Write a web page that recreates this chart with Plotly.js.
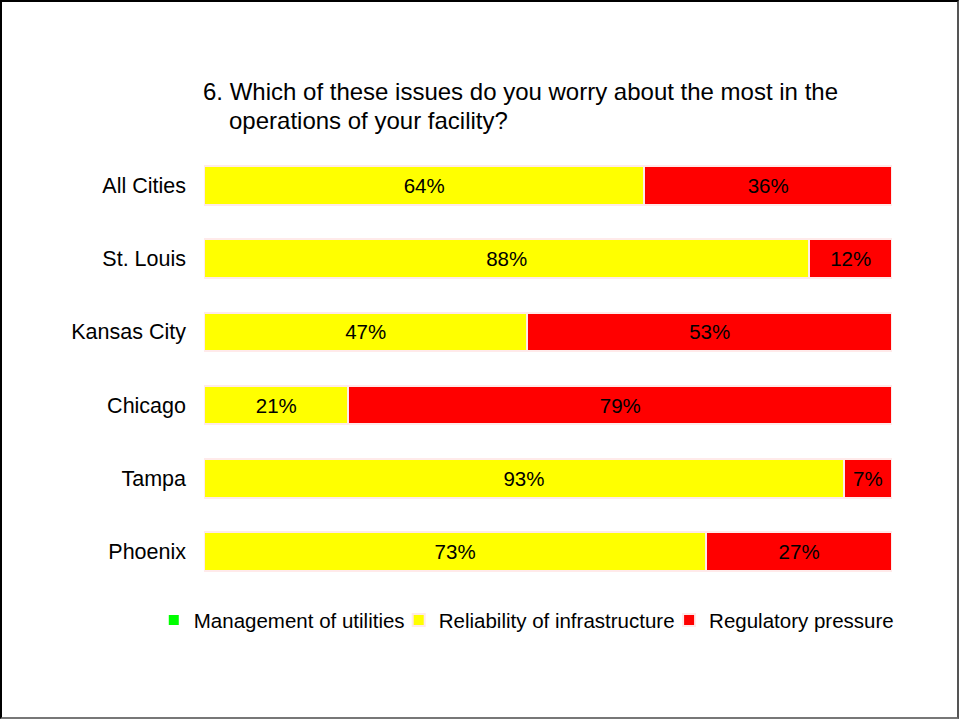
<!DOCTYPE html>
<html>
<head>
<script src="https://cdn.plot.ly/plotly-3.0.1.min.js"></script>
<style>
body { margin: 0; background: #fff; }
#chart { width: 955px; height: 715px; border: 2px solid #000; border-right-color: #555; border-bottom-color: #777; }
</style>
</head>
<body>
<div id="chart"></div>
<script>
var cities = ["All Cities", "St. Louis", "Kansas City", "Chicago", "Tampa", "Phoenix"];
var management = [0, 0, 0, 0, 0, 0];
var reliability = [64, 88, 47, 21, 93, 73];
var regulatory = [36, 12, 53, 79, 7, 27];

var font = "Liberation Sans, Arial, sans-serif";

function pct(arr) { return arr.map(v => v + "%"); }

var data = [
    {
        name: "Management of utilities",
        type: "bar", orientation: "h",
        y: cities, x: management,
        marker: {color: "#00ff00", line: {color: "#ffffff", width: 2}},
        legend: "legend",
        hoverinfo: "none"
    },
    {
        name: "Reliability of infrastructure",
        type: "bar", orientation: "h",
        y: cities, x: reliability,
        text: pct(reliability), textposition: "inside", insidetextanchor: "middle",
        textfont: {color: "#000", size: 20.5, family: font},
        marker: {color: "#ffff00", line: {color: "#ffeaea", width: 2}},
        legend: "legend2",
        hoverinfo: "none"
    },
    {
        name: "Regulatory pressure",
        type: "bar", orientation: "h",
        y: cities, x: regulatory,
        text: pct(regulatory), textposition: "inside", insidetextanchor: "middle",
        textfont: {color: "#000", size: 20.5, family: font},
        marker: {color: "#ff0000", line: {color: "#ffeaea", width: 2}},
        legend: "legend3",
        hoverinfo: "none"
    }
];

function leg(x) {
    return {orientation: "h", x: x, xanchor: "left", y: -0.028, yanchor: "top",
            font: {size: 20.5}, bgcolor: "rgba(0,0,0,0)"};
}

var layout = {
    width: 955, height: 715,
    barmode: "stack",
    bargap: 0.47,
    margin: {l: 202, r: 65, t: 147, b: 129},
    font: {family: font, size: 21, color: "#000"},
    paper_bgcolor: "#fff", plot_bgcolor: "#fff",
    showlegend: true,
    legend: leg(-0.073),
    legend2: leg(0.283),
    legend3: leg(0.676),
    xaxis: {range: [0, 100], showticklabels: false, showgrid: false, zeroline: false, fixedrange: true},
    yaxis: {autorange: "reversed", showgrid: false, zeroline: false, ticks: "", ticklabelstandoff: 17,
            tickfont: {size: 21.5}},
    annotations: [
        {text: "6. Which of these issues do you worry about the most in the", xref: "paper", yref: "paper",
         x: -0.004, y: 1.132, xanchor: "left", yanchor: "middle", showarrow: false, font: {size: 24}},
        {text: "operations of your facility?", xref: "paper", yref: "paper",
         x: 0.034, y: 1.064, xanchor: "left", yanchor: "middle", showarrow: false, font: {size: 24}}
    ]
};

Plotly.newPlot("chart", data, layout, {displayModeBar: false});
</script>
</body>
</html>
